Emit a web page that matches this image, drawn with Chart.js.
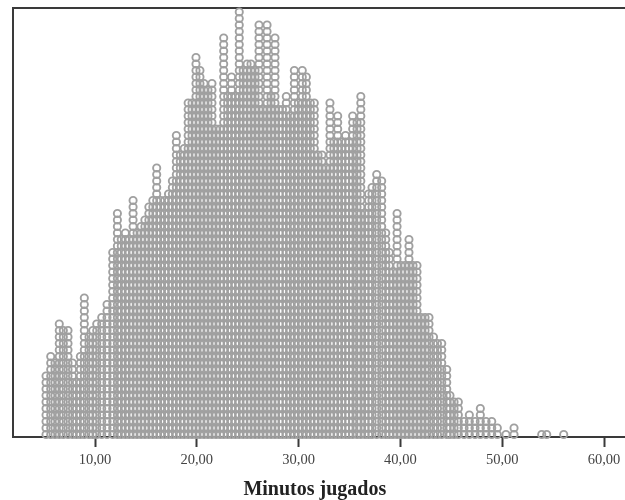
<!DOCTYPE html>
<html>
<head>
<meta charset="utf-8">
<title>Minutos jugados</title>
<script src="https://cdn.jsdelivr.net/npm/chart.js@4"></script>
<style>
  html, body { margin: 0; padding: 0; background: #fff; }
  canvas { display: block; }
</style>
</head>
<body>
<canvas id="myChart" width="625" height="500"></canvas>
<script>
/* Daten: Spalten des Punktdiagramms */
const minutes = [
  5.19, 5.65, 6.07, 6.49, 6.89, 7.35, 7.79, 8.18, 8.56, 8.95,
  9.41, 9.78, 10.17, 10.66, 11.18, 11.74, 12.20, 12.58, 12.98, 13.36,
  13.74, 14.13, 14.52, 14.90, 15.29, 15.68, 16.06, 16.44, 16.84, 17.22,
  17.60, 17.99, 18.38, 18.76, 19.15, 19.53, 19.92, 20.31, 20.71, 21.10,
  21.49, 21.89, 22.28, 22.64, 23.03, 23.41, 23.79, 24.17, 24.56, 24.94,
  25.32, 25.72, 26.11, 26.50, 26.90, 27.29, 27.68, 28.07, 28.42, 28.79,
  29.18, 29.58, 29.97, 30.36, 30.76, 31.15, 31.54, 31.91, 32.30, 32.69,
  33.08, 33.46, 33.84, 34.23, 34.61, 34.95, 35.31, 35.74, 36.11, 36.52,
  36.87, 37.21, 37.67, 38.16, 38.56, 38.91, 39.27, 39.67, 40.06, 40.45,
  40.84, 41.24, 41.63, 42.02, 42.42, 42.81, 43.25, 43.64, 44.06, 44.55,
  44.87, 45.27, 45.69, 46.25, 46.77, 47.33, 47.85, 48.41, 48.97, 49.52,
  50.37, 51.16, 53.88, 54.37, 56.04
];
const counts = [
  10, 13, 12, 18, 17, 17, 12, 9, 13, 22,
  16, 17, 18, 19, 21, 29, 35, 31, 32, 31,
  37, 32, 33, 34, 36, 37, 42, 37, 37, 38,
  40, 47, 44, 45, 52, 52, 59, 57, 55, 54,
  55, 48, 48, 62, 53, 56, 53, 66, 57, 58,
  58, 57, 64, 51, 64, 53, 62, 51, 51, 53,
  50, 57, 52, 57, 56, 52, 52, 44, 44, 42,
  52, 46, 50, 46, 47, 46, 50, 49, 53, 35,
  38, 39, 41, 40, 32, 29, 26, 35, 27, 27,
  31, 27, 27, 19, 19, 19, 16, 15, 15, 11,
  7, 6, 6, 3, 4, 3, 5, 3, 3, 2,
  1, 2, 1, 1, 1
];
const tickValues = [10, 20, 30, 40, 50, 60];
const tickLabels = ['10,00', '20,00', '30,00', '40,00', '50,00', '60,00'];
const axisTitle = 'Minutos jugados';

const axisColor = '#3a3a3a';
const serif = '"Liberation Serif", serif';

/* one point per case, stacked in its column */
const points = [];
minutes.forEach((m, i) => {
  for (let n = 1; n <= counts[i]; n++) {
    points.push({ x: m, y: n });
  }
});

new Chart(document.getElementById('myChart'), {
  type: 'scatter',
  data: {
    datasets: [{
      data: points,
      pointRadius: 3.6,
      pointBorderWidth: 1.9,
      pointBackgroundColor: 'rgba(255,255,255,0)',
      pointBorderColor: '#a0a0a0',
      clip: false
    }]
  },
  options: {
    responsive: false,
    animation: false,
    layout: { autoPadding: false, padding: { left: 4.6, top: 8, right: 0, bottom: 0 } },
    plugins: {
      legend: { display: false },
      tooltip: { enabled: false },
      title: {
        display: true,
        position: 'bottom',
        text: axisTitle,
        color: '#222',
        font: { family: serif, size: 20, weight: 'bold', lineHeight: 1 },
        padding: { top: 8, bottom: 0 }
      }
    },
    scales: {
      x: {
        type: 'linear',
        min: 1.945,
        max: 62.06,
        afterBuildTicks: (scale) => {
          scale.ticks = tickValues.map(v => ({ value: v }));
        },
        afterFit: (scale) => {
          scale.height = 35;
          scale.paddingLeft = 0;
          scale.paddingRight = 0;
        },
        border: { display: true, color: axisColor, width: 2 },
        grid: { drawOnChartArea: false, drawTicks: true, tickLength: 10, tickColor: axisColor, tickWidth: 2 },
        ticks: {
          autoSkip: false,
          maxRotation: 0,
          padding: 4,
          color: '#444',
          font: { family: serif, size: 14.5 },
          callback: (value, index) => tickLabels[index]
        }
      },
      y: {
        min: 0.615,
        max: 66.615,
        afterFit: (scale) => { scale.width = 8.4; },
        border: { display: true, color: axisColor, width: 2 },
        grid: { display: false },
        ticks: { display: false }
      },
      top: {
        type: 'linear',
        position: 'top',
        min: 1.945,
        max: 62.06,
        afterFit: (scale) => { scale.height = 0; },
        border: { display: true, color: axisColor, width: 2 },
        grid: { display: false },
        ticks: { display: false }
      }
    }
  }
});
</script>
</body>
</html>
